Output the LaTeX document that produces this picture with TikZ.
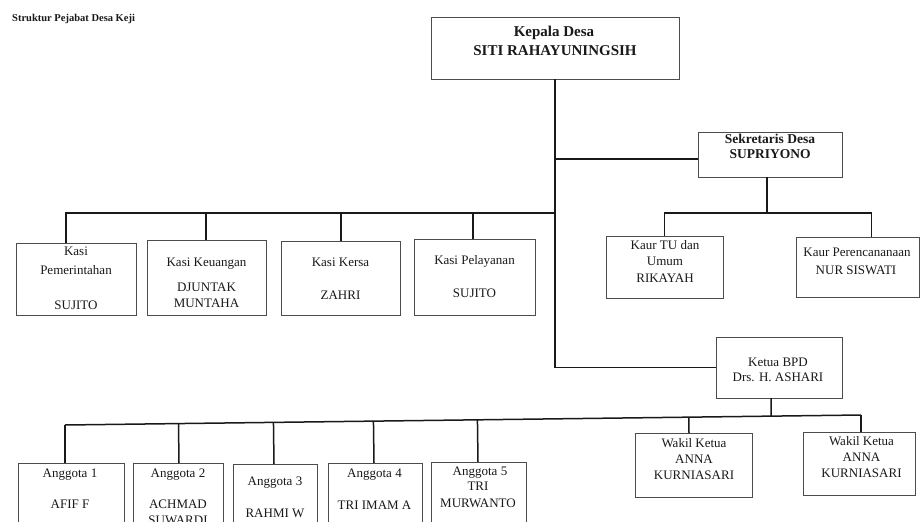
\documentclass[tikz,border=0pt]{standalone}
\usepackage{fontspec}
\setmainfont{Liberation Serif}
\usetikzlibrary{calc}
\tikzset{
  bx/.style={draw=black!70, line width=0.9pt, anchor=north west, inner sep=0pt, outer sep=0pt},
  conn/.style={draw=black!90, line width=1.5pt},
  tx/.style={anchor=base, inner sep=0pt, font=\fontsize{13}{15}\selectfont, text=black!90},
  txb/.style={tx, font=\bfseries\fontsize{13.5}{16}\selectfont},
}
\begin{document}
\begin{tikzpicture}[x=1pt,y=-1pt]
\useasboundingbox (0,0) rectangle (921,522);
\clip (0,0) rectangle (921,522);
\fill[white] (0,0) rectangle (921,522);

% title
\node[tx, anchor=base west, font=\bfseries\fontsize{10.5}{12}\selectfont] (title) at (12,21.5) {Struktur Pejabat Desa Keji};

% boxes
\node[bx, minimum width=248pt, minimum height=62pt] (kd)  at (431,17) {};
\node[bx, minimum width=144pt, minimum height=45pt] (sek) at (698,132) {};
\node[bx, minimum width=120pt, minimum height=72pt] (kp)  at (16,243) {};
\node[bx, minimum width=119pt, minimum height=75pt] (kk)  at (147,240) {};
\node[bx, minimum width=119pt, minimum height=74pt] (kke) at (281,241) {};
\node[bx, minimum width=121pt, minimum height=76pt] (kpl) at (414,239) {};
\node[bx, minimum width=117pt, minimum height=62pt] (ktu) at (606,236) {};
\node[bx, minimum width=123pt, minimum height=60pt] (kpr) at (796,237) {};
\node[bx, minimum width=126pt, minimum height=61pt] (bpd) at (716,337) {};
\node[bx, minimum width=106pt, minimum height=80pt] (a1)  at (18,463) {};
\node[bx, minimum width=90pt,  minimum height=80pt] (a2)  at (133,463) {};
\node[bx, minimum width=84pt,  minimum height=80pt] (a3)  at (233,464) {};
\node[bx, minimum width=94pt,  minimum height=80pt] (a4)  at (328,463) {};
\node[bx, minimum width=95pt,  minimum height=80pt] (a5)  at (431,462) {};
\node[bx, minimum width=117pt, minimum height=64pt] (w1)  at (635,433) {};
\node[bx, minimum width=112pt, minimum height=63pt] (w2)  at (803,432) {};

% texts
\node[tx, font=\bfseries\fontsize{15}{18}\selectfont] (kdt1) at (554,36.5) {Kepala Desa};
\node[tx, font=\bfseries\fontsize{15}{18}\selectfont] (kdt2) at (555,55) {SITI RAHAYUNINGSIH};
\node[txb] (sekt1) at (770,143) {Sekretaris Desa};
\node[txb] (sekt2) at (770,158.5) {SUPRIYONO};

\node[tx] (kpt1) at (76,255) {Kasi};
\node[tx] (kpt2) at (76,274) {Pemerintahan};
\node[tx] (kpt3) at (76,309) {SUJITO};
\node[tx] (kkt1) at (206.5,266) {Kasi Keuangan};
\node[tx] (kkt2) at (206.5,291.5) {DJUNTAK};
\node[tx] (kkt3) at (206.5,307.5) {MUNTAHA};
\node[tx] (kket1) at (340.5,266) {Kasi Kersa};
\node[tx] (kket2) at (340.5,299) {ZAHRI};
\node[tx] (kplt1) at (474.5,264) {Kasi Pelayanan};
\node[tx] (kplt2) at (474.5,297) {SUJITO};

\node[tx] (ktut1) at (665,249) {Kaur TU dan};
\node[tx] (ktut2) at (665,265) {Umum};
\node[tx] (ktut3) at (665,282) {RIKAYAH};
\node[tx] (kprt1) at (857,256) {Kaur Perencananaan};
\node[tx] (kprt2) at (856,274) {NUR SISWATI};

\node[tx] (bpdt1) at (778,366) {Ketua BPD};
\node[tx] (bpdt2) at (778,381) {Drs. H. ASHARI};

\node[tx] (a1t1) at (70,477) {Anggota 1};
\node[tx] (a1t2) at (70,508) {AFIF F};
\node[tx] (a2t1) at (178,477) {Anggota 2};
\node[tx] (a2t2) at (178,508) {ACHMAD};
\node[tx] (a2t3) at (178,524) {SUWARDI};
\node[tx] (a3t1) at (275,485) {Anggota 3};
\node[tx] (a3t2) at (275,517) {RAHMI W};
\node[tx] (a4t1) at (374.5,477) {Anggota 4};
\node[tx] (a4t2) at (374.5,509) {TRI IMAM A};
\node[tx] (a5t1) at (480,475) {Anggota 5};
\node[tx] (a5t2) at (478,490) {TRI};
\node[tx] (a5t3) at (478,507) {MURWANTO};

\node[tx] (w1t1) at (694,447) {Wakil Ketua};
\node[tx] (w1t2) at (694,463) {ANNA};
\node[tx] (w1t3) at (694,479) {KURNIASARI};
\node[tx] (w2t1) at (861.5,445) {Wakil Ketua};
\node[tx] (w2t2) at (861.5,461) {ANNA};
\node[tx] (w2t3) at (861.5,477) {KURNIASARI};

% connectors
\draw[conn] (kd.south) |- (bpd.west);
\coordinate (js) at (555,159);
\draw[conn] (js) -- (js -| sek.west);

\coordinate (kbus) at (555,213);
\draw[conn] (kbus) -| ([xshift=-10pt]kp.north);
\draw[conn] ([xshift=-0.5pt]kk.north) -- ([xshift=-0.5pt]kk.north |- kbus);
\draw[conn] ([xshift=0.5pt]kke.north) -- ([xshift=0.5pt]kke.north |- kbus);
\draw[conn] ([xshift=-1.5pt]kpl.north) -- ([xshift=-1.5pt]kpl.north |- kbus);

\coordinate (ks) at ([xshift=-3pt]sek.south);
\coordinate (kb) at (767,213);
\draw[conn] (ks) -- (kb);
\draw[conn] (ktu.north) |- (kb) -| ([xshift=14pt]kpr.north);

\coordinate (abL) at (65,425);
\coordinate (abR) at (861,415);
\draw[conn] (abL) -- (abR);
\draw[conn] ([xshift=-6pt]a1.north) -- (abL);
\draw[conn] ([xshift=2pt]w2.north) -- (abR);
\coordinate (c2) at ([xshift=1pt]a2.north);
\coordinate (c3) at ([xshift=-1pt]a3.north);
\coordinate (c4) at ([xshift=-1pt]a4.north);
\coordinate (c5) at ([xshift=-0.5pt]a5.north);
\coordinate (cw1) at ([xshift=-4.5pt]w1.north);
\coordinate (cb) at ([xshift=-8pt]bpd.south);
\draw[conn] (c2) -- ($(abL)!(c2)!(abR)$);
\draw[conn] (c3) -- ($(abL)!(c3)!(abR)$);
\draw[conn] (c4) -- ($(abL)!(c4)!(abR)$);
\draw[conn] (c5) -- ($(abL)!(c5)!(abR)$);
\draw[conn] (cw1) -- ($(abL)!(cw1)!(abR)$);
\draw[conn] (cb) -- ($(abL)!(cb)!(abR)$);
\end{tikzpicture}
\end{document}
